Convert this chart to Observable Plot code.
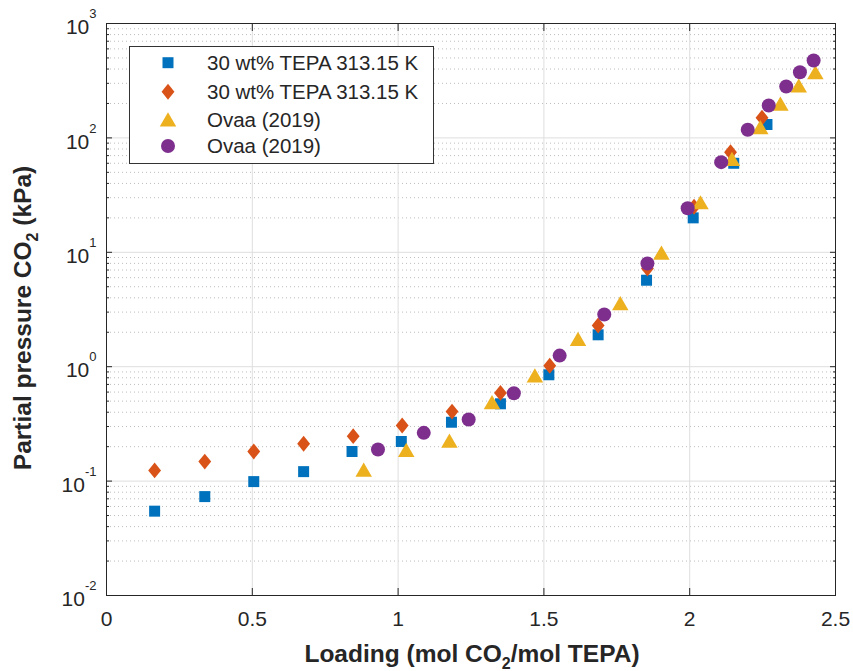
<!DOCTYPE html>
<html><head><meta charset="utf-8">
<script src="https://cdn.jsdelivr.net/npm/d3@7"></script>
<script src="https://cdn.jsdelivr.net/npm/@observablehq/plot@0.6"></script>
<style>body{margin:0;background:#fff} #chart{width:853px;height:671px}</style>
</head><body><div id="chart"></div>
<script>
// ---- data ----
const seriesNames = ["30 wt% TEPA 313.15 K", "30 wt% TEPA 313.15 K", "Ovaa (2019)", "Ovaa (2019)"];

const blueX = [0.165, 0.337, 0.505, 0.676, 0.842, 1.011, 1.183, 1.351, 1.517, 1.686, 1.852, 2.012, 2.151, 2.265];
const blueY = [0.0546, 0.0732, 0.099, 0.121, 0.1815, 0.222, 0.327, 0.474, 0.85, 1.90, 5.7, 20, 60, 131];

const orangeX = [0.165, 0.337, 0.505, 0.676, 0.846, 1.014, 1.185, 1.351, 1.52, 1.686, 1.855, 2.015, 2.14, 2.248];
const orangeY = [0.124, 0.148, 0.1815, 0.212, 0.247, 0.306, 0.405, 0.59, 1.02, 2.29, 7.2, 25, 75, 150];

const yellowX = [0.882, 1.028, 1.176, 1.322, 1.469, 1.617, 1.762, 1.903, 2.037, 2.145, 2.242, 2.311, 2.374, 2.431];
const yellowY = [0.126, 0.1875, 0.226, 0.49, 0.84, 1.75, 3.59, 9.95, 27.4, 65.6, 124, 199, 287, 375];

const purpleX = [0.931, 1.088, 1.242, 1.397, 1.554, 1.707, 1.855, 1.993, 2.108, 2.199, 2.271, 2.331, 2.378, 2.425];
const purpleY = [0.189, 0.264, 0.345, 0.586, 1.25, 2.86, 7.98, 24.3, 61.4, 118, 192, 281, 375, 475];

const xTicks = [0, 0.5, 1, 1.5, 2, 2.5];
const xTickLabels = ["0", "0.5", "1", "1.5", "2", "2.5"];
const yTicks = [0.01, 0.1, 1, 10, 100, 1000];
const yTickExponents = ["-2", "-1", "0", "1", "2", "3"];
const minorMultipliers = [2, 3, 4, 5, 6, 7, 8, 9];
const yMinorTicks = yTicks.slice(0, -1).flatMap(d => minorMultipliers.map(k => k * d));

// ---- styles ----
const colors = ["#0072BD", "#D95319", "#EDB120", "#7E2F8E"];
const axisColor = "#262626";

// custom symbols (bbox-centred)
const diamondSym = {draw(ctx, size) { const h = Math.sqrt(size / 0.405), w = 0.81 * h;
  ctx.moveTo(0, -h/2); ctx.lineTo(w/2, 0); ctx.lineTo(0, h/2); ctx.lineTo(-w/2, 0); ctx.closePath(); }};
const triangleSym = {draw(ctx, size) { const w = Math.sqrt(size * 2 / 0.86), h = 0.86 * w;
  ctx.moveTo(0, -h/2); ctx.lineTo(w/2, h/2); ctx.lineTo(-w/2, h/2); ctx.closePath(); }};
const symbols = [d3.symbolSquare, diamondSym, triangleSym, d3.symbolCircle];
const radii = [6.2, 5.7, 6.1, 7];

const series = [[blueX, blueY], [orangeX, orangeY], [yellowX, yellowY], [purpleX, purpleY]]
  .map(([xs, ys]) => xs.map((x, i) => ({x, y: ys[i]})));

const chart = Plot.plot({
  width: 853, height: 671,
  marginLeft: 106, marginRight: 18, marginTop: 23, marginBottom: 76,
  style: {fontFamily: "'Liberation Sans', Arial, sans-serif", fontSize: "21px", color: axisColor, background: "#fff", overflow: "visible"},
  x: {domain: [0, 2.5]},
  y: {type: "log", domain: [0.01, 1000]},
  marks: [
    Plot.gridY(yMinorTicks, {stroke: "#bdbdbd", strokeOpacity: 1, strokeDasharray: "1,3"}),
    Plot.gridX(xTicks, {stroke: "#dedede", strokeOpacity: 1}),
    Plot.gridY(yTicks, {stroke: "#dedede", strokeOpacity: 1}),
    ...series.map((data, i) => Plot.dot(data, {x: "x", y: "y", symbol: symbols[i], r: radii[i], fill: colors[i], stroke: "none"})),
    Plot.frame({stroke: axisColor}),
    // inward tick marks
    Plot.axisY(yTicks, {anchor: "left", tickSize: -6, tickFormat: () => "", label: null, stroke: axisColor}),
    Plot.axisY(yTicks, {anchor: "right", tickSize: -6, tickFormat: () => "", label: null, stroke: axisColor}),
    Plot.axisY(yMinorTicks, {anchor: "left", tickSize: -3, tickFormat: () => "", label: null, stroke: axisColor}),
    Plot.axisY(yMinorTicks, {anchor: "right", tickSize: -3, tickFormat: () => "", label: null, stroke: axisColor}),
    Plot.axisX(xTicks, {anchor: "bottom", tickSize: -7, tickFormat: () => "", label: null, stroke: axisColor}),
    Plot.axisX(xTicks, {anchor: "top", tickSize: -7, tickFormat: () => "", label: null, stroke: axisColor}),
    // tick labels
    Plot.axisX(xTicks, {anchor: "bottom", tickSize: 0, tickPadding: 16, label: null, fontSize: 21, fill: axisColor,
      tickFormat: d => xTickLabels[xTicks.indexOf(d)]}),
    Plot.axisY(yTicks, {anchor: "left", tickSize: 0, tickPadding: 10, label: null, fontSize: 21, fill: axisColor, dy: 4,
      tickFormat: d => "10^" + yTickExponents[yTicks.indexOf(d)]})
  ]
});

const svg = d3.select(chart);
// superscripts on y tick labels
svg.selectAll("text").filter(function() { return this.textContent.includes("^"); }).each(function() {
  const t = d3.select(this);
  const [base, exp] = this.textContent.split("^");
  t.text(base);
  t.append("tspan").attr("dy", -16).attr("font-size", 13).text(exp);
});

// axis labels
const xl = svg.append("text").attr("x", 472).attr("y", 662).attr("text-anchor", "middle")
  .attr("font-weight", "bold").attr("font-size", 24.5).attr("fill", axisColor);
xl.append("tspan").text("Loading (mol CO");
xl.append("tspan").attr("font-size", 16).attr("dy", 7).text("2");
xl.append("tspan").attr("dy", -7).text("/mol TEPA)");

const yl = svg.append("text").attr("transform", "translate(31,318) rotate(-90)").attr("text-anchor", "middle")
  .attr("font-weight", "bold").attr("font-size", 24.5).attr("fill", axisColor);
yl.append("tspan").text("Partial pressure CO");
yl.append("tspan").attr("font-size", 16).attr("dy", 7).text("2");
yl.append("tspan").attr("dy", -7).text(" (kPa)");

// legend
const lg = svg.append("g").attr("font-size", 20.5).attr("fill", axisColor).attr("text-anchor", "start");
lg.append("rect").attr("x", 129.5).attr("y", 46.5).attr("width", 304).attr("height", 117)
  .attr("fill", "#fff").attr("stroke", "#333").attr("stroke-width", 1);
const rowY = [62.7, 91.7, 119.3, 146];
seriesNames.forEach((name, i) => {
  lg.append("path").attr("transform", `translate(168,${rowY[i]})`)
    .attr("d", d3.symbol(symbols[i], Math.PI * radii[i] * radii[i])()).attr("fill", colors[i]);
  lg.append("text").attr("x", 207).attr("y", rowY[i]).attr("dy", "0.36em").attr("text-anchor", "start").text(name);
});

document.getElementById("chart").appendChild(chart);
</script>
</body></html>
